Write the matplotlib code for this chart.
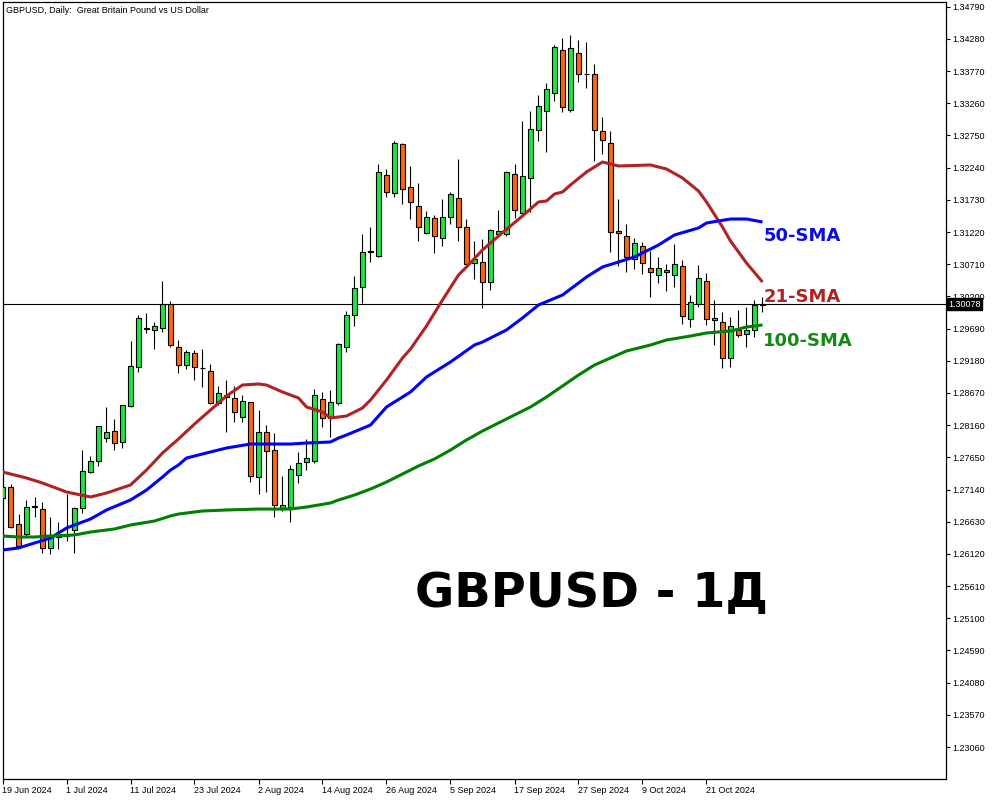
import numpy as np
import matplotlib
matplotlib.use("Agg")
import matplotlib.pyplot as plt
from matplotlib.transforms import blended_transform_factory

# daily GBPUSD candles, 19 Jun 2024 .. 30 Oct 2024 (one entry per trading day)
opens = [1.27006, 1.27180, 1.26594, 1.26435, 1.26863, 1.26831, 1.26214, 1.26388, 1.26404, 1.26499,
         1.26847, 1.27418, 1.27592, 1.27956, 1.28067, 1.27893, 1.28463, 1.29081, 1.29683, 1.29668,
         1.29699, 1.30079, 1.29398, 1.29113, 1.29303, 1.29066, 1.29018, 1.28511, 1.28606, 1.28590,
         1.28289, 1.28527, 1.27339, 1.28051, 1.27766, 1.26847, 1.26863, 1.27370, 1.27577, 1.27592,
         1.28574, 1.28273, 1.28511, 1.29398, 1.29905, 1.30349, 1.30903, 1.30840, 1.32123, 1.31838,
         1.32614, 1.31934, 1.31632, 1.31205, 1.31442, 1.31126, 1.31458, 1.31759, 1.31300, 1.30729,
         1.30745, 1.30428, 1.31189, 1.31189, 1.32140, 1.31522, 1.32076, 1.32837, 1.33137, 1.33423,
         1.34104, 1.33153, 1.34056, 1.33724, 1.33724, 1.32821, 1.32630, 1.31237, 1.31158, 1.30793,
         1.30999, 1.30650, 1.30539, 1.30618, 1.30539, 1.30682, 1.29842, 1.30079, 1.30444, 1.29826,
         1.29794, 1.29224, 1.29668, 1.29604, 1.29668, 1.30064]
highs = [1.27212, 1.27228, 1.26752, 1.26974, 1.27022, 1.26942, 1.26705, 1.26625, 1.27069, 1.26863,
         1.27766, 1.27671, 1.28146, 1.28448, 1.28257, 1.28479, 1.29493, 1.29905, 1.29937, 1.29794,
         1.30444, 1.30127, 1.29509, 1.29351, 1.29351, 1.29366, 1.29129, 1.28780, 1.28875, 1.28780,
         1.28637, 1.28527, 1.28400, 1.28162, 1.28035, 1.27354, 1.27529, 1.27735, 1.27941, 1.28732,
         1.28685, 1.28717, 1.29462, 1.29968, 1.30523, 1.31189, 1.31300, 1.32298, 1.32219, 1.32662,
         1.32630, 1.32267, 1.31997, 1.31553, 1.31490, 1.31743, 1.31854, 1.32377, 1.31426, 1.31078,
         1.31110, 1.31268, 1.31569, 1.32187, 1.32298, 1.32979, 1.33137, 1.33391, 1.33581, 1.34183,
         1.34294, 1.34341, 1.34262, 1.34231, 1.33882, 1.33042, 1.32821, 1.31743, 1.31348, 1.31126,
         1.31062, 1.30919, 1.30824, 1.30713, 1.31031, 1.30777, 1.30222, 1.30698, 1.30571, 1.30143,
         1.29953, 1.29873, 1.29984, 1.30032, 1.30143, 1.30190]
lows = [1.26974, 1.26530, 1.26229, 1.26388, 1.26705, 1.26134, 1.26118, 1.26198, 1.26324, 1.26134,
        1.26768, 1.27402, 1.27513, 1.27893, 1.27766, 1.27798, 1.28448, 1.29002, 1.29620, 1.29366,
        1.29636, 1.29398, 1.28986, 1.29050, 1.28875, 1.28764, 1.28495, 1.28479, 1.28051, 1.28210,
        1.28210, 1.27259, 1.27069, 1.27101, 1.26705, 1.26800, 1.26625, 1.27243, 1.27450, 1.27561,
        1.28131, 1.27972, 1.28479, 1.29319, 1.29731, 1.30095, 1.30745, 1.30824, 1.31775, 1.31775,
        1.31664, 1.31426, 1.31078, 1.31189, 1.30887, 1.30999, 1.31348, 1.31078, 1.30682, 1.30476,
        1.30016, 1.30301, 1.31158, 1.31158, 1.31442, 1.31506, 1.31537, 1.32662, 1.32488, 1.33296,
        1.33121, 1.33121, 1.33597, 1.33502, 1.32345, 1.32456, 1.30903, 1.30682, 1.30587, 1.30634,
        1.30555, 1.30190, 1.30412, 1.30285, 1.30349, 1.29763, 1.29715, 1.30032, 1.29747, 1.29430,
        1.29066, 1.29081, 1.29557, 1.29398, 1.29557, 1.29953]
closes = [1.27180, 1.26546, 1.26245, 1.26863, 1.26879, 1.26214, 1.26388, 1.26404, 1.26420, 1.26847,
          1.27434, 1.27592, 1.28146, 1.28051, 1.27877, 1.28479, 1.29097, 1.29858, 1.29699, 1.29731,
          1.30079, 1.29430, 1.29113, 1.29319, 1.29081, 1.29072, 1.28511, 1.28669, 1.28637, 1.28368,
          1.28543, 1.27354, 1.28051, 1.27750, 1.26895, 1.26895, 1.27466, 1.27561, 1.27640, 1.28637,
          1.28273, 1.28527, 1.29446, 1.29905, 1.30333, 1.30903, 1.30919, 1.32171, 1.31854, 1.32630,
          1.31902, 1.31696, 1.31300, 1.31458, 1.31158, 1.31458, 1.31822, 1.31300, 1.30713, 1.30793,
          1.30428, 1.31252, 1.31237, 1.32171, 1.31569, 1.32108, 1.32852, 1.33217, 1.33486, 1.34151,
          1.33201, 1.34135, 1.33724, 1.33716, 1.32837, 1.32678, 1.31221, 1.31205, 1.30824, 1.31047,
          1.30729, 1.30587, 1.30650, 1.30587, 1.30713, 1.29889, 1.30111, 1.30492, 1.29842, 1.29858,
          1.29224, 1.29731, 1.29589, 1.29668, 1.30064, 1.30078]

# moving averages (bar index, value)
sma21_bar = [0, 3, 5, 8, 11, 13, 16, 18, 20, 22, 24, 26, 28, 30, 32, 33, 35, 37, 38, 40, 41, 43, 45, 46,
             48, 50, 51, 53, 55, 57, 58, 60, 62, 65, 67, 68, 69, 70, 71, 73, 75, 77, 81, 83, 85, 87,
             88, 90, 91, 93, 95]
sma21_val = [1.27418, 1.27323, 1.27243, 1.27101, 1.27022, 1.27085, 1.27212, 1.27449, 1.27719, 1.27941,
             1.28178, 1.28400, 1.28622, 1.28796, 1.28812, 1.28796, 1.28685, 1.28590, 1.28448, 1.28368,
             1.28273, 1.28305, 1.28432, 1.28558, 1.28875, 1.29224, 1.29366, 1.29731, 1.30143, 1.30539,
             1.30666, 1.30935, 1.31157, 1.31474, 1.31696, 1.31711, 1.31822, 1.31854, 1.31965, 1.32171,
             1.32329, 1.32266, 1.32282, 1.32218, 1.32076, 1.31870, 1.31696, 1.31299, 1.31078, 1.30729,
             1.30428]
sma50_bar = [0, 2, 4, 6, 8, 11, 13, 16, 18, 20, 21, 22, 23, 26, 28, 31, 33, 36, 38, 41, 42, 43, 46, 48,
             51, 53, 56, 59, 60, 63, 65, 67, 70, 73, 75, 77, 79, 82, 84, 87, 88, 91, 93, 95]
sma50_val = [1.26182, 1.26214, 1.26293, 1.26372, 1.26530, 1.26673, 1.26816, 1.26974, 1.27132, 1.27338,
             1.27449, 1.27529, 1.27639, 1.27735, 1.27798, 1.27861, 1.27861, 1.27861, 1.27877, 1.27893,
             1.27956, 1.28004, 1.28162, 1.28448, 1.28685, 1.28923, 1.29161, 1.29430, 1.29477, 1.29668,
             1.29858, 1.30064, 1.30222, 1.30507, 1.30666, 1.30745, 1.30824, 1.31014, 1.31173, 1.31284,
             1.31363, 1.31426, 1.31426, 1.31379]
sma100_bar = [0, 2, 4, 6, 9, 11, 14, 16, 19, 21, 22, 23, 25, 28, 32, 34, 36, 38, 41, 42, 44, 46, 48, 50,
              52, 54, 56, 58, 60, 62, 64, 66, 68, 70, 72, 74, 76, 78, 81, 83, 86, 88, 91, 93, 95]
sma100_val = [1.26404, 1.26388, 1.26388, 1.26404, 1.26420, 1.26467, 1.26515, 1.26578, 1.26641, 1.26721,
              1.26752, 1.26768, 1.26800, 1.26816, 1.26831, 1.26831, 1.26831, 1.26863, 1.26927, 1.26974,
              1.27053, 1.27148, 1.27259, 1.27386, 1.27513, 1.27624, 1.27766, 1.27925, 1.28067, 1.28194,
              1.28321, 1.28448, 1.28606, 1.28780, 1.28954, 1.29113, 1.29224, 1.29335, 1.29430, 1.29509,
              1.29572, 1.29620, 1.29652, 1.29715, 1.29747]

date_labels = ["19 Jun 2024", "1 Jul 2024", "11 Jul 2024", "23 Jul 2024", "2 Aug 2024", "14 Aug 2024",
               "26 Aug 2024", "5 Sep 2024", "17 Sep 2024", "27 Sep 2024", "9 Oct 2024", "21 Oct 2024"]
price_ticks = [1.34790, 1.34280, 1.33770, 1.33260, 1.32750, 1.32240, 1.31730, 1.31220, 1.30710,
               1.30200, 1.29690, 1.29180, 1.28670, 1.28160, 1.27650, 1.27140, 1.26630, 1.26120,
               1.25610, 1.25100, 1.24590, 1.24080, 1.23570, 1.23060]
last_price = 1.30078

BULL = "#1ee444"
BEAR = "#fa6614"
TICK_FONT = "Liberation Sans"

o = np.array(opens); h = np.array(highs); l = np.array(lows); c = np.array(closes)
x = np.arange(len(o))
up = c >= o

fig = plt.figure(figsize=(10, 8), dpi=100)
ax = fig.add_axes([0.0025, 0.02625, 0.944, 0.97125])

ax.axhline(last_price, color="black", lw=0.8, zorder=1)

# candles
ax.vlines(x, l, h, color="black", lw=0.8, zorder=2)
ax.bar(x, np.abs(c - o), bottom=np.minimum(o, c), width=0.55,
       color=np.where(up, BULL, BEAR), edgecolor="black", linewidth=0.8, zorder=3)

# moving averages
ax.plot(sma21_bar, sma21_val, color="#b22222", lw=2.2, zorder=4, solid_capstyle="butt")
ax.plot(sma50_bar, sma50_val, color="#0000ff", lw=2.2, zorder=4, solid_capstyle="butt")
ax.plot(sma100_bar, sma100_val, color="#008000", lw=2.2, zorder=4, solid_capstyle="butt")

ax.set_xlim(0.02, 118.0)
ax.set_ylim(1.22554, 1.34864)

# axes styling
for s in ax.spines.values():
    s.set_color("black")
    s.set_linewidth(0.9)
ax.yaxis.tick_right()
ax.set_yticks(price_ticks)
ax.set_yticklabels([f"{v:.5f}" for v in price_ticks], fontsize=6.5, family=TICK_FONT)
ax.tick_params(axis="y", direction="out", length=3, width=0.8, pad=1)
ax.set_xticks(x[::8][:len(date_labels)])
ax.set_xticklabels(date_labels, fontsize=6.5, family=TICK_FONT, ha="left")
ax.tick_params(axis="x", direction="out", length=3.4, width=0.8, pad=1.5)

# current price box on the scale
trans = blended_transform_factory(ax.transAxes, ax.transData)
ax.text(1.002, last_price, f"{last_price:.5f}", transform=trans, ha="left", va="center",
        fontsize=6.5, family=TICK_FONT, color="white", zorder=10, clip_on=False,
        bbox=dict(boxstyle="square,pad=0.15", fc="black", ec="black"))

# header
ax.text(0.004, 0.9885, "GBPUSD, Daily:  Great Britain Pound vs US Dollar", transform=ax.transAxes,
        ha="left", va="center", fontsize=6.5, family=TICK_FONT, color="black")

# MA labels
ax.text(95.1, 1.31157, "50-SMA", color="#0a0aee", fontsize=13, fontweight="bold",
        family="DejaVu Sans", ha="left", va="center", zorder=6)
ax.text(95.1, 1.30190, "21-SMA", color="#b22222", fontsize=13, fontweight="bold",
        family="DejaVu Sans", ha="left", va="center", zorder=6)
ax.text(95.1, 1.29493, "100-SMA", color="#138a13", fontsize=13, fontweight="bold",
        family="DejaVu Sans", ha="left", va="center", zorder=6)

fig.text(0.5915, 1 - 594 / 800, "GBPUSD - 1Д", ha="center", va="center",
         fontsize=34.5, fontweight="bold", family="DejaVu Sans", color="black")

fig.savefig("out.png", dpi=100, facecolor="white")
